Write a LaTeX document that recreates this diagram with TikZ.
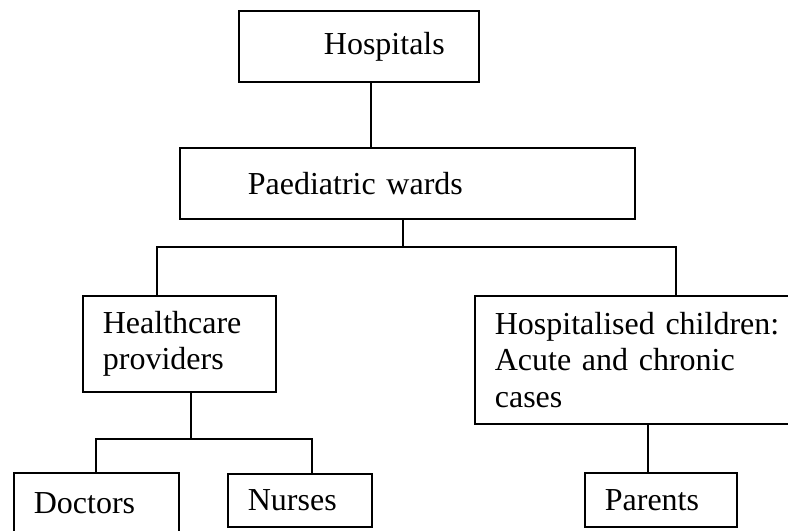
\documentclass[tikz,border=0pt]{standalone}
\usepackage{fontspec}
\setmainfont{Liberation Serif}

\begin{document}
\begin{tikzpicture}[x=0.375pt,y=-0.375pt,line width=0.65pt,
        main node/.style={rectangle,draw,anchor=north west,align=left,inner xsep=7.5pt,inner ysep=0pt,
            font=\fontsize{12pt}{13.8pt}\selectfont}]
            \useasboundingbox (0,0) rectangle (788,531);
            \clip (0,0) rectangle (788,531);
            \node[main node,minimum width=90pt,minimum height=26.625pt,text width=75pt] (hosp) at (238,10) {\hspace*{24.4pt}Hospitals};
            \node[main node,minimum width=170.625pt,minimum height=26.625pt,text width=155.625pt] (ward) at (179,147) {\hspace*{18pt}Paediatric wards};
            \node[main node,minimum width=72.375pt,minimum height=36pt,text width=57.375pt] (staff) at (82,295) {Healthcare\\providers};
            \node[main node,minimum width=123.75pt,minimum height=48pt,text width=108.75pt] (kids) at (474,295) {Hospitalised children:\\Acute and chronic\\cases};
            \node[main node,minimum width=61.875pt,minimum height=22.5pt,text width=46.875pt] (doc) at (13,472) {Doctors};
            \node[main node,minimum width=54pt,minimum height=19.875pt,text width=39pt] (nurse) at (227,473) {Nurses};
            \node[main node,minimum width=57pt,minimum height=20.25pt,text width=42pt] (parent) at (584,472) {Parents};
            \coordinate (top) at (371,0);
            \coordinate (fork) at (403,247);
            \coordinate (staffin) at (157,0);
            \coordinate (kidsin) at (676,0);
            \coordinate (fork2) at (191,439);
            \coordinate (docin) at (96,0);
            \coordinate (nursein) at (312,0);
            \coordinate (parentin) at (648,0);
            \draw (hosp.south -| top) -- (ward.north -| top);
            \draw (ward.south -| fork) -- (fork);
            \draw (staff.north -| staffin) |- (fork) -| (kids.north -| kidsin);
            \draw (staff.south -| fork2) -- (fork2);
            \draw (doc.north -| docin) |- (fork2) -| (nurse.north -| nursein);
            \draw (kids.south -| parentin) -- (parent.north -| parentin);
        \end{tikzpicture}
\end{document}
